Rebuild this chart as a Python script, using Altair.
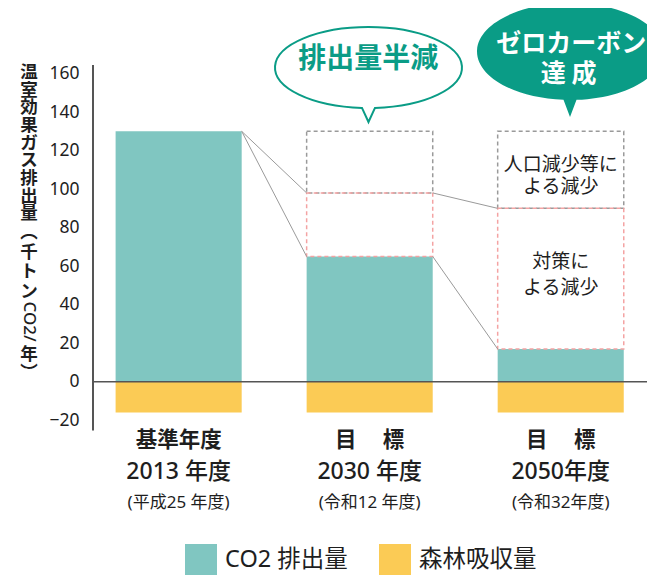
import altair as alt
import pandas as pd

# ---------------- data ----------------
years = ["2013", "2030", "2050"]
label_line1 = ["基準年度", "目　 標", "目　 標"]
label_line2 = ["2013 年度", "2030 年度", "2050年度"]
label_line3 = ["(平成25 年度)", "(令和12 年度)", "(令和32年度)"]
series_names = ["CO2 排出量", "森林吸収量"]
co2_emission = [130, 65, 17]
forest_absorption = [-16, -16, -16]
baseline_level = 130                 # 2013 level carried to the target years
after_population = [130, 98, 90]     # level after population-driven decrease
y_tick_values = [-20, 0, 20, 40, 60, 80, 100, 120, 140, 160]
bubble_half = "排出量半減"
bubble_zero = ["ゼロカーボン", "達 成"]
pop_box_text = ["人口減少等に", "よる減少"]
policy_box_text = ["対策に", "よる減少"]
y_title_upper = list("温室効果ガス排出量")
y_title_paren = ["︵", "千", "ト", "ン"]
y_title_latin = "CO2/"
y_title_lower = ["年", "︶"]

# ---------------- style / layout ----------------
CJK = "Noto Sans CJK JP"
MIX = "Noto Sans, Noto Sans CJK JP"
TEXT = "#1e1e1e"
TEAL = "#0A9C86"
BAR_COLORS = ["#80C6C1", "#FBCB55"]
PAD_L = 85
W, H = 554, 524
Y_DOMAIN = [-78, 194]
AXIS_EXTENT = [-25.3, 164.4]

xscale = alt.Scale(domain=years, paddingInner=0.34, paddingOuter=0.12, align=0.493)
yscale = alt.Scale(domain=Y_DOMAIN, nice=False, zero=False)
yaxis = alt.Axis(values=y_tick_values, title=None, domain=False, ticks=False,
                 tickSize=0, grid=False, labelPadding=14, labelFontSize=17.5,
                 labelFont=MIX, labelColor=TEXT)


def X(field, **kw):
    return alt.X(f"{field}:N", scale=xscale, axis=None, **kw)


def Y(field, **kw):
    return alt.Y(f"{field}:Q", scale=yscale, axis=yaxis, **kw)


# bars
bars_df = pd.DataFrame({
    "cat": years + years,
    "series": [series_names[0]] * 3 + [series_names[1]] * 3,
    "value": co2_emission + forest_absorption,
})
bars = alt.Chart(bars_df).mark_bar().encode(
    x=X("cat"),
    y=Y("value", stack=None),
    color=alt.Color("series:N", scale=alt.Scale(domain=series_names, range=BAR_COLORS),
                    legend=alt.Legend(title=None, orient="none", legendX=92, legendY=536,
                                      direction="horizontal", symbolType="square",
                                      symbolSize=1024, symbolStrokeWidth=0, symbolOpacity=1,
                                      labelFontSize=23.5, labelFont=MIX, labelColor=TEXT,
                                      labelOffset=8, columnPadding=31, padding=0,
                                      labelLimit=400)),
)

# dashed boxes
pop_df = pd.DataFrame({"cat": years[1:], "lo": after_population[1:],
                       "hi": [baseline_level] * 2})
policy_df = pd.DataFrame({"cat": years[1:], "lo": co2_emission[1:],
                          "hi": after_population[1:]})
pop_box = alt.Chart(pop_df).mark_bar(fillOpacity=0, stroke="#9a9a9a", strokeWidth=1.5,
                                     strokeDash=[4, 3]).encode(
    x=X("cat"), y=Y("lo"), y2="hi:Q")
policy_box = alt.Chart(policy_df).mark_bar(fillOpacity=0, stroke="#F4A3A3", strokeWidth=1.5,
                                           strokeDash=[4, 3]).encode(
    x=X("cat"), y=Y("lo"), y2="hi:Q")

# connector lines
conn_rows = []
for i in range(len(years) - 1):
    conn_rows.append({"a": years[i], "b": years[i + 1],
                      "ya": after_population[i], "yb": after_population[i + 1]})
    conn_rows.append({"a": years[i], "b": years[i + 1],
                      "ya": co2_emission[i], "yb": co2_emission[i + 1]})
conn = alt.Chart(pd.DataFrame(conn_rows)).mark_rule(color="#9a9a9a", strokeWidth=1).encode(
    x=X("a", bandPosition=1), x2=alt.X2("b:N", bandPosition=0),
    y=Y("ya"), y2="yb:Q")

# zero line and vertical axis line
zero = alt.Chart(pd.DataFrame({"v": [0]})).mark_rule(color="#555555", strokeWidth=1.5).encode(
    y=Y("v"))
vaxis = alt.Chart(pd.DataFrame({"lo": [AXIS_EXTENT[0]], "hi": [AXIS_EXTENT[1]]})).mark_rule(
    color="#555555", strokeWidth=2).encode(x=alt.value(0), y=Y("lo"), y2="hi:Q")

# category labels
lab_df = pd.DataFrame({"cat": years, "l1": label_line1, "l2": label_line2, "l3": label_line3})
lab1 = alt.Chart(lab_df).mark_text(font=CJK, fontSize=21.5, fontWeight="bold", color=TEXT,
                                   baseline="middle").encode(
    x=X("cat"), y=alt.value(432.7), text="l1:N")
lab2 = alt.Chart(lab_df).mark_text(font=MIX, fontSize=23, fontWeight=500, color=TEXT,
                                   baseline="middle").encode(
    x=X("cat"), y=alt.value(464.3), text="l2:N")
lab3 = alt.Chart(lab_df).mark_text(font=MIX, fontSize=17, color=TEXT,
                                   baseline="middle").encode(
    x=X("cat"), y=alt.value(495.3), text="l3:N")

# speech bubbles
B1_PATH = "M-0.0695,0.432 A1,0.433 0 1 1 0.0695,0.432 L0,0.583 Z"
B2_PATH = "M-0.07,0.520 A1,0.5215 0 1 1 0.07,0.520 L0,0.704 Z"
b1 = alt.Chart(pd.DataFrame({"cat": [years[1]]})).mark_point(
    shape=B1_PATH, size=34969, filled=True, fill="white", stroke=TEAL, strokeWidth=2,
    opacity=1, xOffset=-1.2).encode(x=X("cat"), y=alt.value(59.5))
b2 = alt.Chart(pd.DataFrame({"cat": [years[2]]})).mark_point(
    shape=B2_PATH, size=34596, filled=True, fill=TEAL, strokeWidth=0,
    opacity=1, xOffset=9.3).encode(x=X("cat"), y=alt.value(43.5))
b1_text = alt.Chart(pd.DataFrame({"cat": [years[1]], "t": [bubble_half]})).mark_text(
    font=CJK, fontSize=28, fontWeight="bold", color=TEAL, baseline="middle", dx=-1.5).encode(
    x=X("cat"), y=alt.value(51.7), text="t:N")
b2_text1 = alt.Chart(pd.DataFrame({"cat": [years[2]], "t": [bubble_zero[0]]})).mark_text(
    font=CJK, fontSize=25, fontWeight="bold", color="white", baseline="middle", dx=10.5).encode(
    x=X("cat"), y=alt.value(35.5), text="t:N")
b2_text2 = alt.Chart(pd.DataFrame({"cat": [years[2]], "t": [bubble_zero[1]]})).mark_text(
    font=CJK, fontSize=25, fontWeight="bold", color="white", baseline="middle", dx=8).encode(
    x=X("cat"), y=alt.value(65.5), text="t:N")

# box annotations
box_texts = []
for txt, py in [(pop_box_text[0], 157.0), (pop_box_text[1], 178.5),
                (policy_box_text[0], 253.5), (policy_box_text[1], 279.5)]:
    box_texts.append(
        alt.Chart(pd.DataFrame({"cat": [years[2]], "t": [txt]})).mark_text(
            font=CJK, fontSize=19, color=TEXT, baseline="middle").encode(
            x=X("cat"), y=alt.value(py), text="t:N"))

# vertical y-axis title
TX = -64
t_upper = alt.Chart(pd.DataFrame({"t": ["\n".join(y_title_upper)]})).mark_text(
    font=CJK, fontSize=17.5, fontWeight="bold", color=TEXT, baseline="top", lineBreak="\n",
    lineHeight=17.7).encode(x=alt.value(TX), y=alt.value(55.9), text="t:N")
t_paren = alt.Chart(pd.DataFrame({"t": ["\n".join(y_title_paren)]})).mark_text(
    font=CJK, fontSize=17.5, fontWeight="bold", color=TEXT, baseline="top", lineBreak="\n",
    lineHeight=19.5).encode(x=alt.value(TX), y=alt.value(216.4), text="t:N")
t_latin = alt.Chart(pd.DataFrame({"t": [y_title_latin]})).mark_text(
    font=MIX, fontSize=17, fontWeight=500, color=TEXT, baseline="middle", angle=90).encode(
    x=alt.value(TX), y=alt.value(313.5), text="t:N")
t_lower = alt.Chart(pd.DataFrame({"t": ["\n".join(y_title_lower)]})).mark_text(
    font=CJK, fontSize=17.5, fontWeight="bold", color=TEXT, baseline="top", lineBreak="\n",
    lineHeight=18).encode(x=alt.value(TX), y=alt.value(337.9), text="t:N")

chart = alt.layer(
    bars, pop_box, policy_box, conn, zero, vaxis,
    lab1, lab2, lab3, b1, b2, b1_text, b2_text1, b2_text2, *box_texts,
    t_upper, t_paren, t_latin, t_lower,
).properties(
    width=W, height=H,
    padding={"left": PAD_L, "top": 0, "right": 0, "bottom": 43},
    autosize=alt.AutoSizeParams(type="none"),
).configure_view(stroke=None)

chart.save("out.html", embed_options={"renderer": "svg", "actions": False})
